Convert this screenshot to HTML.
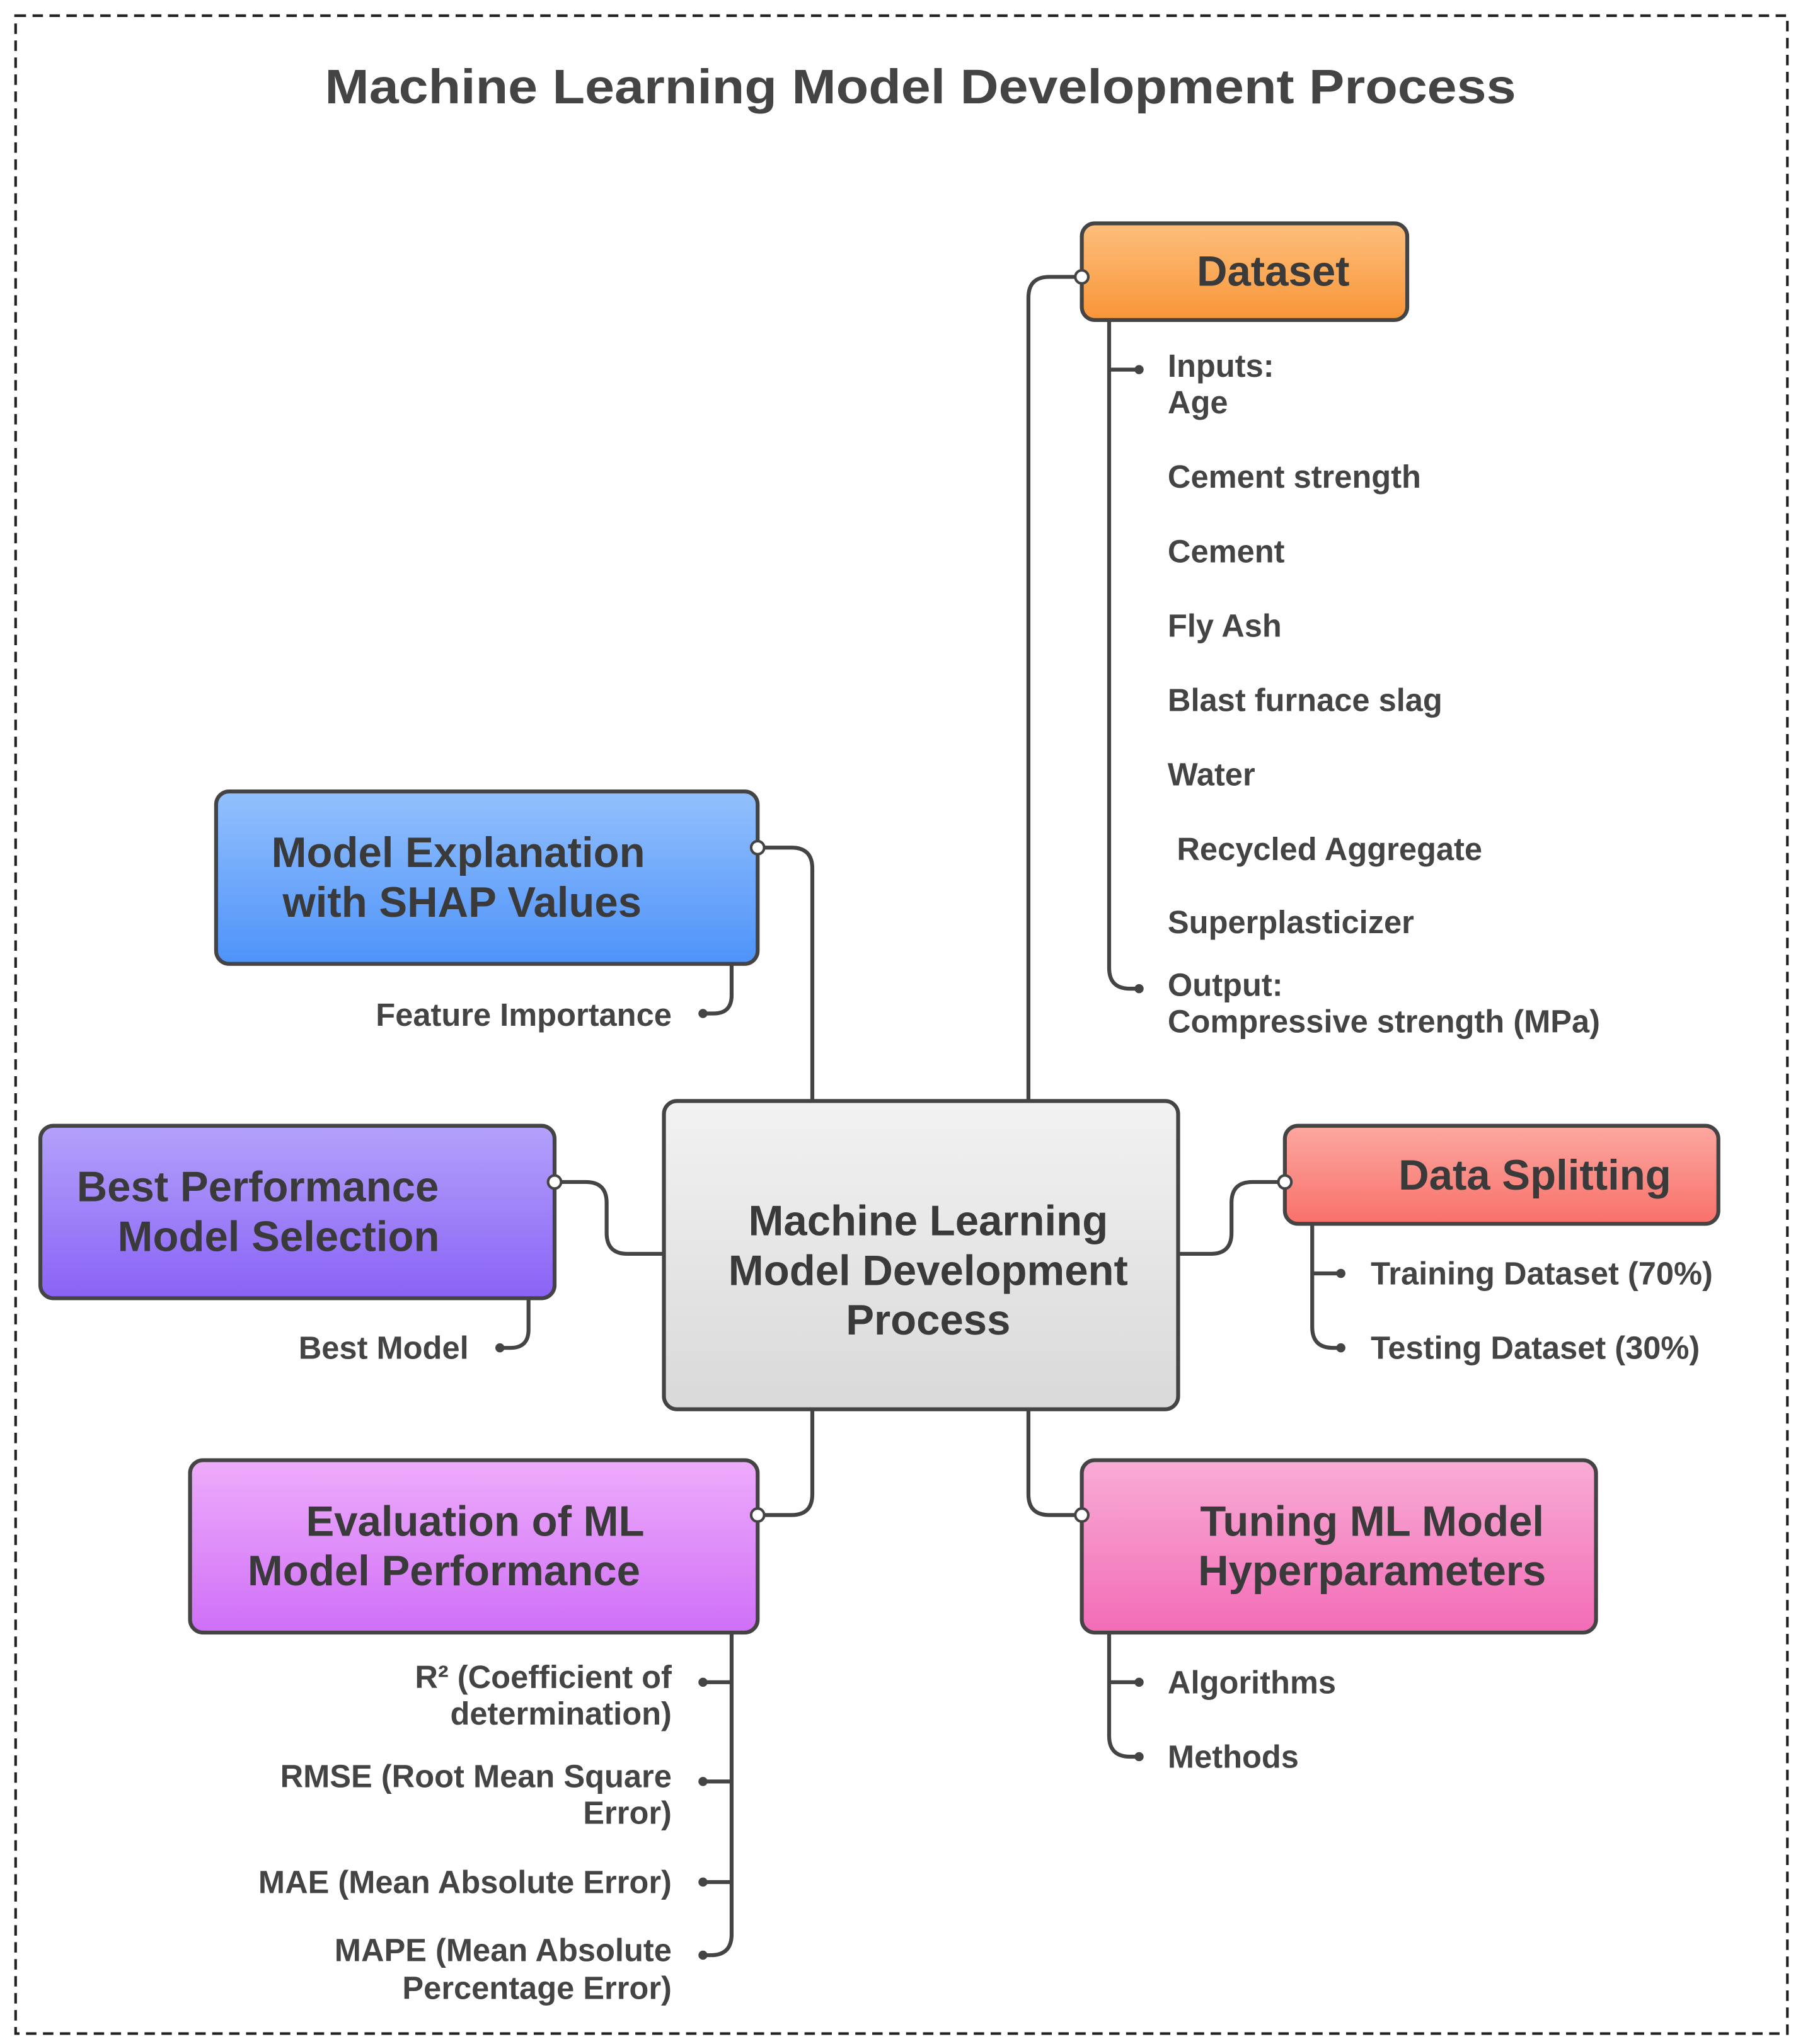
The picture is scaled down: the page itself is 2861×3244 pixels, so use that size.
<!DOCTYPE html>
<html><head><meta charset="utf-8"><style>
html,body{margin:0;padding:0;background:#fff}
svg{display:block}
text{font-family:"Liberation Sans",sans-serif;font-weight:bold;fill:#444}
.l{font-size:24.5px}
.b{font-size:32.5px;fill:#3a3a3a}
</style></head><body>
<svg width="2861" height="3244" viewBox="0 0 1385 1565" preserveAspectRatio="none" xmlns="http://www.w3.org/2000/svg">
<defs>
<linearGradient id="go" x1="0" y1="0" x2="0" y2="1"><stop offset="0" stop-color="#fdbf7c"/><stop offset="1" stop-color="#f99538"/></linearGradient>
<linearGradient id="gb" x1="0" y1="0" x2="0" y2="1"><stop offset="0" stop-color="#93c0fc"/><stop offset="1" stop-color="#4e93fa"/></linearGradient>
<linearGradient id="gp" x1="0" y1="0" x2="0" y2="1"><stop offset="0" stop-color="#b3a2fb"/><stop offset="1" stop-color="#8a62f6"/></linearGradient>
<linearGradient id="gg" x1="0" y1="0" x2="0" y2="1"><stop offset="0" stop-color="#f2f2f2"/><stop offset="1" stop-color="#d9d9d9"/></linearGradient>
<linearGradient id="gr" x1="0" y1="0" x2="0" y2="1"><stop offset="0" stop-color="#fca7a0"/><stop offset="1" stop-color="#f8716a"/></linearGradient>
<linearGradient id="gm" x1="0" y1="0" x2="0" y2="1"><stop offset="0" stop-color="#eeacfb"/><stop offset="1" stop-color="#cf6ff7"/></linearGradient>
<linearGradient id="gk" x1="0" y1="0" x2="0" y2="1"><stop offset="0" stop-color="#f9acd6"/><stop offset="1" stop-color="#f26cb6"/></linearGradient>
</defs>
<rect x="12" y="12" width="1361" height="1545" fill="none" stroke="#222" stroke-width="2" stroke-dasharray="8,5"/>
<text x="707" y="79" text-anchor="middle" font-size="37" textLength="915" lengthAdjust="spacingAndGlyphs">Machine Learning Model Development Process</text>

<g fill="none" stroke="#444" stroke-width="3">
<path d="M790 843 V228 Q790 212 806 212 H831"/>
<path d="M624 843 V665 Q624 649 608 649 H582"/>
<path d="M510 960 H482 Q466 960 466 944 V921 Q466 905 450 905 H426"/>
<path d="M905 960 H930 Q946 960 946 944 V921 Q946 905 962 905 H987"/>
<path d="M624 1079 V1144 Q624 1160 608 1160 H582"/>
<path d="M790 1079 V1144 Q790 1160 806 1160 H831"/>
<path d="M852 245 V741 Q852 757 868 757 H875"/>
<path d="M852 283 H875"/>
<path d="M562 738 V762 Q562 776 548 776 H540"/>
<path d="M406 994 V1018 Q406 1032 392 1032 H384"/>
<path d="M1008 937 V1016 Q1008 1032 1024 1032 H1030"/>
<path d="M1008 975 H1030"/>
<path d="M562 1250 V1481 Q562 1497 546 1497 H540"/>
<path d="M562 1288 H540 M562 1364 H540 M562 1441 H540"/>
<path d="M852 1250 V1329 Q852 1345 868 1345 H875"/>
<path d="M852 1288 H875"/>
</g>
<g fill="#444">
<circle cx="875" cy="283" r="3.5"/><circle cx="875" cy="757" r="3.5"/>
<circle cx="540" cy="776" r="3.5"/><circle cx="384" cy="1032" r="3.5"/>
<circle cx="1030" cy="975" r="3.5"/><circle cx="1030" cy="1032" r="3.5"/>
<circle cx="540" cy="1288" r="3.5"/><circle cx="540" cy="1364" r="3.5"/><circle cx="540" cy="1441" r="3.5"/><circle cx="540" cy="1497" r="3.5"/>
<circle cx="875" cy="1288" r="3.5"/><circle cx="875" cy="1345" r="3.5"/>
</g>

<g stroke="#444" stroke-width="3">
<rect x="831" y="171" width="250" height="74" rx="10" fill="url(#go)"/>
<rect x="166" y="606" width="416" height="132" rx="10" fill="url(#gb)"/>
<rect x="31" y="862" width="395" height="132" rx="10" fill="url(#gp)"/>
<rect x="510" y="843" width="395" height="236" rx="10" fill="url(#gg)"/>
<rect x="987" y="862" width="333" height="75" rx="10" fill="url(#gr)"/>
<rect x="146" y="1118" width="436" height="132" rx="10" fill="url(#gm)"/>
<rect x="831" y="1118" width="395" height="132" rx="10" fill="url(#gk)"/>
</g>
<g fill="#fff" stroke="#444" stroke-width="2">
<circle cx="831" cy="212" r="5"/><circle cx="582" cy="649" r="5"/><circle cx="426" cy="905" r="5"/>
<circle cx="987" cy="905" r="5"/><circle cx="582" cy="1160" r="5"/><circle cx="831" cy="1160" r="5"/>
</g>

<g dominant-baseline="central">
<text class="b" x="978" y="208" text-anchor="middle">Dataset</text>
<text class="b" x="352" y="653" text-anchor="middle">Model Explanation</text>
<text class="b" x="355" y="691" text-anchor="middle">with SHAP Values</text>
<text class="b" x="198" y="909" text-anchor="middle">Best Performance</text>
<text class="b" x="214" y="947" text-anchor="middle">Model Selection</text>
<text class="b" x="713" y="935" text-anchor="middle" font-size="34">Machine Learning</text>
<text class="b" x="713" y="973" text-anchor="middle" font-size="34">Model Development</text>
<text class="b" x="713" y="1011" text-anchor="middle" font-size="34">Process</text>
<text class="b" x="1179" y="900" text-anchor="middle">Data Splitting</text>
<text class="b" x="365" y="1165" text-anchor="middle">Evaluation of ML</text>
<text class="b" x="341" y="1203" text-anchor="middle">Model Performance</text>
<text class="b" x="1054" y="1165" text-anchor="middle">Tuning ML Model</text>
<text class="b" x="1054" y="1203" text-anchor="middle">Hyperparameters</text>

<text class="l" x="897" y="280">Inputs:</text>
<text class="l" x="897" y="308">Age</text>
<text class="l" x="897" y="365">Cement strength</text>
<text class="l" x="897" y="422">Cement</text>
<text class="l" x="897" y="479">Fly Ash</text>
<text class="l" x="897" y="536">Blast furnace slag</text>
<text class="l" x="897" y="593">Water</text>
<text class="l" x="904" y="650">Recycled Aggregate</text>
<text class="l" x="897" y="706">Superplasticizer</text>
<text class="l" x="897" y="754">Output:</text>
<text class="l" x="897" y="782">Compressive strength (MPa)</text>

<text class="l" x="516" y="777" text-anchor="end">Feature Importance</text>
<text class="l" x="360" y="1032" text-anchor="end">Best Model</text>
<text class="l" x="1053" y="975">Training Dataset (70%)</text>
<text class="l" x="1053" y="1032">Testing Dataset (30%)</text>

<text class="l" x="516" y="1284" text-anchor="end">R² (Coefficient of</text>
<text class="l" x="516" y="1312" text-anchor="end">determination)</text>
<text class="l" x="516" y="1360" text-anchor="end">RMSE (Root Mean Square</text>
<text class="l" x="516" y="1388" text-anchor="end">Error)</text>
<text class="l" x="516" y="1441" text-anchor="end">MAE (Mean Absolute Error)</text>
<text class="l" x="516" y="1493" text-anchor="end">MAPE (Mean Absolute</text>
<text class="l" x="516" y="1522" text-anchor="end">Percentage Error)</text>

<text class="l" x="897" y="1288">Algorithms</text>
<text class="l" x="897" y="1345">Methods</text>
</g>
</svg>
</body></html>
